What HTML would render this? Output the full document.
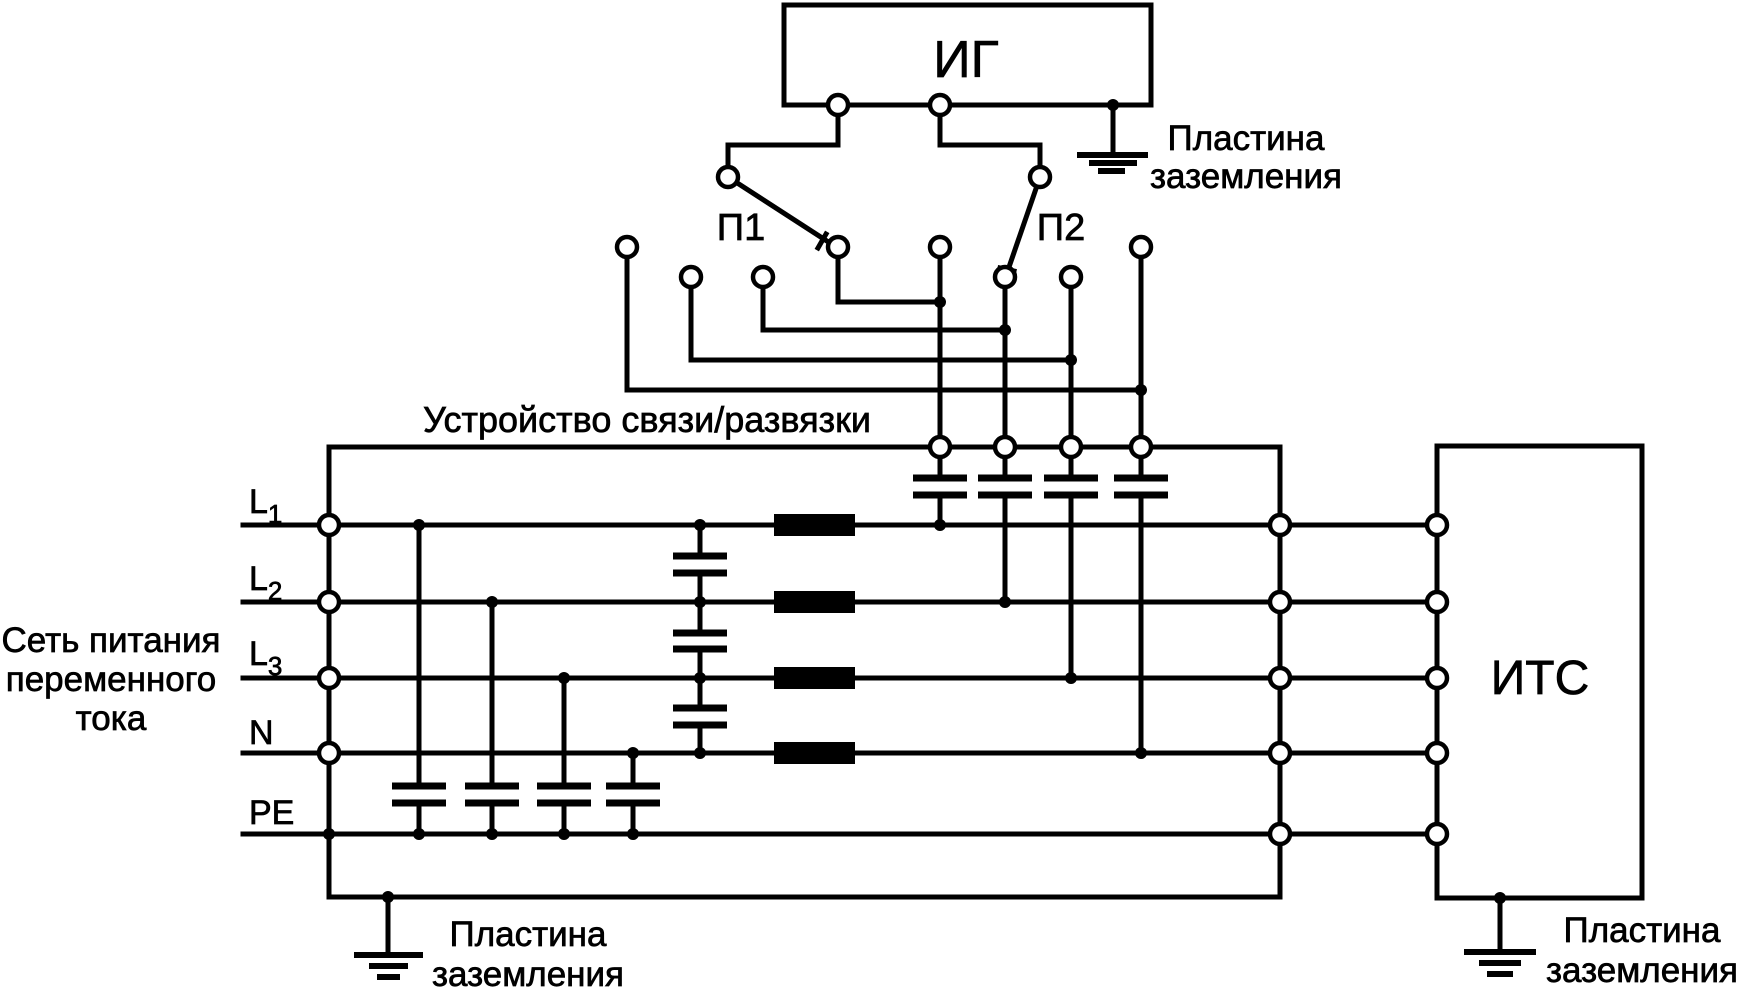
<!DOCTYPE html>
<html><head><meta charset="utf-8"><style>
html,body{margin:0;padding:0;background:#fff;}
svg{display:block}
text{font-family:"Liberation Sans",Arial,sans-serif;fill:#000;stroke:#000;stroke-width:0.7}
</style></head><body>
<svg width="1740" height="988" viewBox="0 0 1740 988" xmlns="http://www.w3.org/2000/svg">
<g stroke="#000" stroke-width="5" fill="none" stroke-linecap="square">
<rect x="784" y="5" width="367" height="100"/>
<line x1="1113" y1="105" x2="1113" y2="155"/>
<line x1="1080" y1="155" x2="1145" y2="155" stroke-width="6"/>
<line x1="1092" y1="163" x2="1134" y2="163" stroke-width="6"/>
<line x1="1101" y1="171" x2="1122" y2="171" stroke-width="6"/>
<polyline points="838,105 838,145 728,145 728,177"/>
<polyline points="940,105 940,145 1040,145 1040,177"/>
<line x1="728" y1="177" x2="830" y2="243"/>
<line x1="818" y1="248" x2="826" y2="234"/>
<line x1="1040" y1="177" x2="1008" y2="270"/>
<line x1="1000" y1="268" x2="1014" y2="271"/>
<polyline points="838,247 838,302 940,302"/>
<polyline points="763,277 763,330 1005,330"/>
<polyline points="691,277 691,360 1071,360"/>
<polyline points="627,247 627,390 1141,390"/>
<line x1="940" y1="247" x2="940" y2="478"/>
<line x1="1005" y1="277" x2="1005" y2="478"/>
<line x1="1071" y1="277" x2="1071" y2="478"/>
<line x1="1141" y1="247" x2="1141" y2="478"/>
<line x1="940" y1="495" x2="940" y2="525"/>
<line x1="1005" y1="495" x2="1005" y2="602"/>
<line x1="1071" y1="495" x2="1071" y2="678"/>
<line x1="1141" y1="495" x2="1141" y2="753"/>
<g stroke-width="7" stroke-linecap="butt">
<line x1="913" y1="478" x2="967" y2="478"/><line x1="913" y1="495" x2="967" y2="495"/>
<line x1="978" y1="478" x2="1032" y2="478"/><line x1="978" y1="495" x2="1032" y2="495"/>
<line x1="1044" y1="478" x2="1098" y2="478"/><line x1="1044" y1="495" x2="1098" y2="495"/>
<line x1="1114" y1="478" x2="1168" y2="478"/><line x1="1114" y1="495" x2="1168" y2="495"/>
</g>
<polyline points="329,897 329,447 1280,447 1280,897 329,897"/>
<line x1="243" y1="525" x2="1437" y2="525"/>
<line x1="243" y1="602" x2="1437" y2="602"/>
<line x1="243" y1="678" x2="1437" y2="678"/>
<line x1="243" y1="753" x2="1437" y2="753"/>
<line x1="243" y1="834" x2="1437" y2="834"/>
<line x1="419" y1="525" x2="419" y2="786"/><line x1="419" y1="803" x2="419" y2="834"/>
<line x1="492" y1="602" x2="492" y2="786"/><line x1="492" y1="803" x2="492" y2="834"/>
<line x1="564" y1="678" x2="564" y2="786"/><line x1="564" y1="803" x2="564" y2="834"/>
<line x1="633" y1="753" x2="633" y2="786"/><line x1="633" y1="803" x2="633" y2="834"/>
<line x1="700" y1="525" x2="700" y2="556"/>
<line x1="700" y1="573" x2="700" y2="633"/>
<line x1="700" y1="649" x2="700" y2="708"/>
<line x1="700" y1="725" x2="700" y2="753"/>
<g stroke-width="7" stroke-linecap="butt">
<line x1="392" y1="786" x2="446" y2="786"/><line x1="392" y1="803" x2="446" y2="803"/>
<line x1="465" y1="786" x2="519" y2="786"/><line x1="465" y1="803" x2="519" y2="803"/>
<line x1="537" y1="786" x2="591" y2="786"/><line x1="537" y1="803" x2="591" y2="803"/>
<line x1="606" y1="786" x2="660" y2="786"/><line x1="606" y1="803" x2="660" y2="803"/>
<line x1="673" y1="556" x2="727" y2="556"/><line x1="673" y1="573" x2="727" y2="573"/>
<line x1="673" y1="633" x2="727" y2="633"/><line x1="673" y1="649" x2="727" y2="649"/>
<line x1="673" y1="708" x2="727" y2="708"/><line x1="673" y1="725" x2="727" y2="725"/>
</g>
<rect x="1437" y="446" width="205" height="452"/>
<line x1="388" y1="897" x2="388" y2="955"/>
<line x1="357" y1="955" x2="420" y2="955" stroke-width="6"/>
<line x1="372" y1="966" x2="405" y2="966" stroke-width="6"/>
<line x1="380" y1="977" x2="397" y2="977" stroke-width="6"/>
<line x1="1500" y1="898" x2="1500" y2="952"/>
<line x1="1467" y1="952" x2="1533" y2="952" stroke-width="6"/>
<line x1="1482" y1="963" x2="1518" y2="963" stroke-width="6"/>
<line x1="1490" y1="974" x2="1510" y2="974" stroke-width="6"/>
</g>
<g fill="#000">
<rect x="774" y="514" width="81" height="22"/>
<rect x="774" y="591" width="81" height="22"/>
<rect x="774" y="667" width="81" height="22"/>
<rect x="774" y="742" width="81" height="22"/>
</g>
<g fill="#000">
<circle cx="1113" cy="105" r="6"/>
<circle cx="940" cy="302" r="6"/><circle cx="1005" cy="330" r="6"/>
<circle cx="1071" cy="360" r="6"/><circle cx="1141" cy="390" r="6"/>
<circle cx="940" cy="525" r="6"/><circle cx="1005" cy="602" r="6"/>
<circle cx="1071" cy="678" r="6"/><circle cx="1141" cy="753" r="6"/>
<circle cx="419" cy="525" r="6"/><circle cx="492" cy="602" r="6"/>
<circle cx="564" cy="678" r="6"/><circle cx="633" cy="753" r="6"/>
<circle cx="419" cy="834" r="6"/><circle cx="492" cy="834" r="6"/>
<circle cx="564" cy="834" r="6"/><circle cx="633" cy="834" r="6"/>
<circle cx="700" cy="525" r="6"/><circle cx="700" cy="602" r="6"/>
<circle cx="700" cy="678" r="6"/><circle cx="700" cy="753" r="6"/>
<circle cx="329" cy="834" r="6"/>
<circle cx="388" cy="897" r="6"/><circle cx="1500" cy="898" r="6"/>
</g>
<g fill="#fff" stroke="#000" stroke-width="4.5">
<circle cx="838" cy="105" r="10"/><circle cx="940" cy="105" r="10"/>
<circle cx="728" cy="177" r="10"/><circle cx="1040" cy="177" r="10"/>
<circle cx="627" cy="247" r="10"/><circle cx="691" cy="277" r="10"/>
<circle cx="763" cy="277" r="10"/><circle cx="838" cy="247" r="10"/>
<circle cx="940" cy="247" r="10"/><circle cx="1005" cy="277" r="10"/>
<circle cx="1071" cy="277" r="10"/><circle cx="1141" cy="247" r="10"/>
<circle cx="940" cy="447" r="10"/><circle cx="1005" cy="447" r="10"/>
<circle cx="1071" cy="447" r="10"/><circle cx="1141" cy="447" r="10"/>
<circle cx="329" cy="525" r="10"/><circle cx="329" cy="602" r="10"/>
<circle cx="329" cy="678" r="10"/><circle cx="329" cy="753" r="10"/>
<circle cx="1280" cy="525" r="10"/><circle cx="1280" cy="602" r="10"/>
<circle cx="1280" cy="678" r="10"/><circle cx="1280" cy="753" r="10"/>
<circle cx="1280" cy="834" r="10"/>
<circle cx="1437" cy="525" r="10"/><circle cx="1437" cy="602" r="10"/>
<circle cx="1437" cy="678" r="10"/><circle cx="1437" cy="753" r="10"/>
<circle cx="1437" cy="834" r="10"/>
</g>
<text x="966" y="77" font-size="52" text-anchor="middle">ИГ</text>
<text x="1540" y="694" font-size="48" text-anchor="middle">ИТС</text>
<text x="741" y="240" font-size="38" text-anchor="middle">П1</text>
<text x="1061" y="240" font-size="38" text-anchor="middle">П2</text>
<text x="1246" y="150" font-size="35" text-anchor="middle">Пластина</text>
<text x="1246" y="188" font-size="35" text-anchor="middle">заземления</text>
<text x="647" y="432" font-size="36" text-anchor="middle">Устройство связи/развязки</text>
<text x="111" y="652" font-size="35" text-anchor="middle">Сеть питания</text>
<text x="111" y="691" font-size="35" text-anchor="middle">переменного</text>
<text x="111" y="730" font-size="35" text-anchor="middle">тока</text>
<text x="249" y="513" font-size="34">L<tspan font-size="26" dy="10">1</tspan></text>
<text x="249" y="590" font-size="34">L<tspan font-size="26" dy="10">2</tspan></text>
<text x="249" y="665" font-size="34">L<tspan font-size="26" dy="10">3</tspan></text>
<text x="249" y="744" font-size="34">N</text>
<text x="249" y="824" font-size="34">PE</text>
<text x="528" y="946" font-size="35" text-anchor="middle">Пластина</text>
<text x="528" y="986" font-size="35" text-anchor="middle">заземления</text>
<text x="1642" y="942" font-size="35" text-anchor="middle">Пластина</text>
<text x="1642" y="982" font-size="35" text-anchor="middle">заземления</text>
</svg>
</body></html>
